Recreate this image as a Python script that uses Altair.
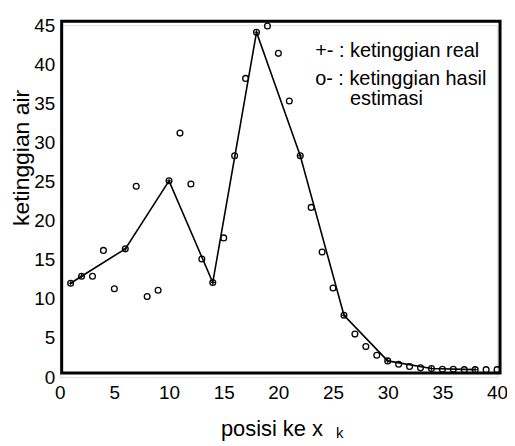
import altair as alt
import pandas as pd

# estimated water height at each position (circles)
pos = list(range(1, 41))
est = [12.0, 12.9, 12.9, 16.2, 11.3, 16.4, 24.4, 10.3, 11.1, 25.1,
       31.2, 24.7, 15.1, 12.1, 17.8, 28.3, 38.2, 44.1, 44.9, 41.4,
       35.3, 28.3, 21.7, 16.0, 11.4, 7.9, 5.5, 3.9, 2.8, 2.07,
       1.65, 1.36, 1.18, 1.1, 1.0, 1.0, 0.95, 0.95, 0.95, 0.95]

# real water height (line with + markers)
real_pos = [1, 2, 6, 10, 14, 18, 22, 26, 30, 34, 38]
real_val = [12.0, 12.9, 16.4, 25.1, 12.1, 44.1, 28.3, 7.9, 2.07, 1.1, 0.95]

x_ticks = list(range(0, 41, 5))
y_ticks = list(range(0, 46, 5))

W, H = 440, 354
FONT = "Liberation Sans"

est_df = pd.DataFrame({"x": pos, "y": est})
real_df = pd.DataFrame({"x": real_pos, "y": real_val})
one = pd.DataFrame({"a": [0]})

xs = alt.Scale(domain=[0, 40], nice=False, zero=False)
ys = alt.Scale(domain=[0, 45], nice=False, zero=False)

x_axis = alt.Axis(values=x_ticks, labelFontSize=19, labelPadding=7, ticks=False,
                  domain=False, grid=False, labelFlush=False, labelOverlap=False,
                  labelColor="black",
                  title="posisi ke x", titleFontSize=22, titleFontWeight="normal",
                  titleColor="black", titleX=213, titleY=59, titleAlign="center",
                  titleBaseline="alphabetic")
y_axis = alt.Axis(values=y_ticks, labelFontSize=19, labelPadding=5, ticks=False,
                  domain=False, grid=False, labelOverlap=False, labelColor="black",
                  title="ketinggian air", titleFontSize=23, titleFontWeight="normal",
                  titleColor="black", titleX=-31, titleY=133, titleAngle=270,
                  titleAlign="center", titleBaseline="alphabetic")

X = alt.X("x:Q", scale=xs, axis=x_axis)
Y = alt.Y("y:Q", scale=ys, axis=y_axis)

circles = alt.Chart(est_df).mark_point(
    shape="circle", filled=False, size=34, strokeWidth=1.3, color="black", opacity=1
).encode(x=X, y=Y)

line = alt.Chart(real_df).mark_line(color="black", strokeWidth=1.6).encode(x=X, y=Y)

plus = alt.Chart(real_df).mark_point(
    shape="M-1,0H1M0,-1V1", filled=False, size=20, strokeWidth=1, color="black", opacity=1
).encode(x=X, y=Y)

frame = alt.Chart(one).mark_rect(
    fillOpacity=0, stroke="black", strokeWidth=3
).encode(x=alt.value(2), x2=alt.value(443), y=alt.value(-4), y2=alt.value(350))

def txt(s, px, py, size=20):
    return alt.Chart(one).mark_text(
        text=s, align="left", baseline="alphabetic", fontSize=size, font=FONT, color="black"
    ).encode(x=alt.value(px), y=alt.value(py))

leg1 = txt("+- : ketinggian real", 257, 32)
leg2 = txt("o- : ketinggian hasil", 257, 60)
leg3 = txt("estimasi", 292, 80)
sub_k = txt("k", 278, 415, 15)

chart = alt.layer(line, circles, plus, frame, leg1, leg2, leg3, sub_k).properties(
    width=W, height=H,
    autosize=alt.AutoSizeParams(type="none"),
    padding={"left": 52, "top": 16, "right": 10, "bottom": 66},
).configure_view(stroke=None).configure(font=FONT)

chart.save("out.html", embed_options={"renderer": "svg", "actions": False})
